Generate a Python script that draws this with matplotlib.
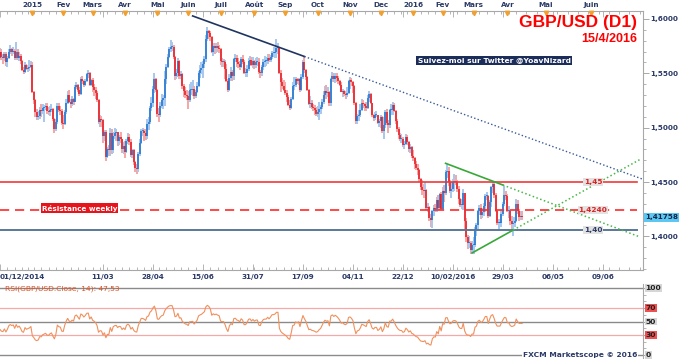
import matplotlib
matplotlib.use('Agg')
import matplotlib.pyplot as plt
import numpy as np
import pandas as pd
from matplotlib.transforms import blended_transform_factory as blend

# ---------------- data (prices in 1/10000) ----------------
first_open = 15900
close = [
 # Nov 2014 (warm-up, off-chart)
 15880, 15860, 15780, 15700, 15680, 15630, 15660, 15640, 15700, 15660, 15730, 15790, 15770, 15740, 15640,
 # Dec 2014
 15700, 15650, 15640, 15680, 15600, 15640, 15700, 15720, 15700, 15710, 15640, 15700, 15640, 15660, 15610, 15530, 15510, 15580, 15540, 15550, 15560, 15580,
 # Jan 2015
 15330, 15250, 15140, 15100, 15110, 15160, 15150, 15180, 15190, 15200, 15150, 15140, 15160, 15170, 15080, 14990, 15050, 15200, 15160, 15150, 15040,
 # Feb 2015
 15030, 15140, 15230, 15300, 15240, 15220, 15260, 15240, 15370, 15390, 15350, 15310, 15450, 15430, 15390, 15430, 15490, 15500, 15390, 15440,
 # Mar 2015
 15370, 15350, 15320, 15250, 15050, 15080, 15070, 14920, 14960, 14730, 14800, 14790, 14950, 14790, 14920, 14950, 14960, 14880, 14910, 14900, 14800, 14835,
 # Apr 2015
 14780, 14880, 14910, 14870, 14750, 14790, 14680, 14630, 14620, 14760, 14860, 14970, 14970, 14950, 14920, 15030, 15050, 15180, 15230, 15360, 15450, 15350,
 # May 2015
 15130, 15120, 15200, 15250, 15270, 15450, 15560, 15650, 15720, 15740, 15740, 15650, 15480, 15500, 15610, 15480, 15490, 15380, 15340, 15300, 15290,
 # Jun 2015
 15250, 15350, 15350, 15360, 15290, 15330, 15380, 15500, 15530, 15550, 15590, 15630, 15820, 15890, 15870, 15830, 15700, 15750, 15730, 15750, 15730, 15720,
 # Jul 2015
 15610, 15600, 15600, 15540, 15430, 15350, 15460, 15510, 15480, 15630, 15640, 15600, 15590, 15560, 15630, 15600, 15500, 15500, 15540, 15610, 15620, 15580, 15610,
 # Aug 2015
 15580, 15600, 15600, 15510, 15500, 15560, 15600, 15610, 15610, 15640, 15620, 15650, 15690, 15690, 15700, 15730, 15730, 15500, 15420, 15380, 15350,
 # Sep 2015
 15320, 15280, 15210, 15180, 15260, 15380, 15390, 15450, 15430, 15450, 15350, 15470, 15600, 15530, 15470, 15350, 15220, 15230, 15190, 15180, 15160, 15130,
 # Oct 2015
 15140, 15170, 15190, 15240, 15300, 15340, 15320, 15330, 15230, 15450, 15480, 15450, 15480, 15460, 15430, 15390, 15330, 15340, 15310, 15300, 15320, 15430,
 # Nov 2015
 15440, 15420, 15380, 15230, 15060, 15110, 15120, 15160, 15230, 15220, 15200, 15180, 15270, 15310, 15230, 15120, 15090, 15120, 15120, 15040, 15060,
 # Dec 2015
 15100, 14970, 15020, 15140, 15040, 15020, 15160, 15160, 15210, 15150, 15060, 14990, 14930, 14900, 14900, 14840, 14850, 14910, 14870, 14800, 14820, 14740,
 # Jan 2016
 14720, 14670, 14630, 14610, 14530, 14450, 14430, 14420, 14430, 14260, 14270, 14170, 14150, 14230, 14260, 14250, 14330, 14260, 14390, 14250,
 # Feb 2016
 14420, 14400, 14590, 14600, 14500, 14420, 14440, 14500, 14510, 14500, 14440, 14340, 14290, 14290, 14400, 14140, 13990, 13940, 13940, 13870, 13920,
 # Mar 2016
 13920, 14070, 14100, 14230, 14260, 14200, 14220, 14280, 14370, 14370, 14190, 14320, 14450, 14480, 14380, 14230, 14120, 14120, 14120, 14210, 14300, 14380, 14370,
 # Apr 2016
 14230, 14230, 14140, 14110, 14120, 14140, 14300, 14230, 14180, 14180, 14176,
]
high = [
 15920, 15900, 15880, 15800, 15720, 15700, 15690, 15700, 15730, 15720, 15750, 15810, 15810, 15790, 15750,
 15730, 15720, 15680, 15700, 15700, 15660, 15720, 15760, 15730, 15740, 15720, 15790, 15720, 15700, 15680, 15620, 15560, 15600, 15590, 15580, 15620, 15610,
 15600, 15340, 15260, 15170, 15150, 15190, 15220, 15220, 15210, 15230, 15230, 15190, 15200, 15220, 15180, 15090, 15080, 15230, 15230, 15200, 15170,
 15120, 15160, 15260, 15340, 15350, 15260, 15290, 15270, 15390, 15420, 15400, 15370, 15470, 15480, 15440, 15450, 15500, 15530, 15510, 15450,
 15460, 15400, 15370, 15340, 15260, 15120, 15110, 15080, 14980, 14980, 14820, 14840, 15000, 14990, 14960, 15000, 14990, 14950, 14930, 14960, 14900, 14870,
 14880, 14900, 14950, 14940, 14900, 14800, 14800, 14690, 14670, 14780, 14900, 14990, 15000, 14990, 14990, 15080, 15100, 15200, 15280, 15380, 15500, 15460,
 15360, 15180, 15240, 15310, 15300, 15520, 15590, 15680, 15740, 15810, 15790, 15760, 15660, 15540, 15640, 15620, 15520, 15500, 15400, 15370, 15350,
 15340, 15400, 15420, 15440, 15380, 15350, 15420, 15520, 15580, 15600, 15610, 15660, 15850, 15930, 15900, 15890, 15840, 15780, 15780, 15780, 15790, 15760,
 15730, 15640, 15630, 15620, 15590, 15450, 15490, 15560, 15530, 15640, 15680, 15670, 15640, 15610, 15650, 15670, 15620, 15550, 15580, 15640, 15660, 15650, 15650,
 15620, 15640, 15650, 15640, 15530, 15580, 15630, 15660, 15650, 15680, 15680, 15670, 15710, 15740, 15720, 15820, 15780, 15740, 15530, 15460, 15440,
 15420, 15350, 15300, 15250, 15280, 15420, 15470, 15470, 15460, 15460, 15460, 15490, 15620, 15660, 15540, 15480, 15360, 15290, 15250, 15220, 15210, 15190,
 15200, 15240, 15210, 15260, 15340, 15380, 15390, 15370, 15340, 15460, 15510, 15500, 15500, 15500, 15480, 15440, 15420, 15360, 15350, 15340, 15370, 15440,
 15470, 15460, 15430, 15390, 15240, 15130, 15160, 15220, 15260, 15250, 15230, 15240, 15300, 15340, 15320, 15230, 15130, 15140, 15150, 15120, 15080,
 15120, 15110, 15100, 15160, 15170, 15070, 15170, 15220, 15240, 15230, 15160, 15080, 15010, 14950, 14940, 14910, 14880, 14940, 14930, 14880, 14850, 14830,
 14790, 14730, 14690, 14670, 14620, 14540, 14520, 14480, 14500, 14440, 14310, 14280, 14210, 14240, 14290, 14300, 14360, 14380, 14400, 14410,
 14450, 14470, 14610, 14670, 14640, 14520, 14500, 14530, 14570, 14560, 14520, 14460, 14350, 14340, 14440, 14270, 14170, 14010, 14000, 13960, 13960,
 13990, 14090, 14120, 14240, 14290, 14300, 14260, 14310, 14390, 14410, 14380, 14330, 14460, 14510, 14500, 14400, 14240, 14160, 14160, 14240, 14320, 14460, 14420,
 14390, 14280, 14240, 14190, 14180, 14180, 14340, 14330, 14250, 14230, 14230,
]
low = [
 15840, 15800, 15760, 15690, 15650, 15600, 15610, 15620, 15630, 15640, 15650, 15710, 15730, 15720, 15620,
 15620, 15620, 15590, 15610, 15570, 15560, 15630, 15680, 15660, 15680, 15620, 15620, 15620, 15610, 15590, 15520, 15490, 15500, 15530, 15510, 15520, 15550,
 15320, 15220, 15100, 15070, 15070, 15080, 15100, 15130, 15050, 15160, 15130, 15120, 15110, 15140, 15060, 14950, 14970, 15030, 15140, 15120, 15020,
 14990, 15020, 15130, 15220, 15230, 15180, 15200, 15210, 15240, 15360, 15330, 15290, 15300, 15400, 15370, 15380, 15420, 15460, 15380, 15380,
 15330, 15290, 15260, 15240, 15030, 15010, 15010, 14860, 14880, 14690, 14720, 14740, 14740, 14760, 14770, 14900, 14880, 14830, 14840, 14860, 14770, 14760,
 14720, 14770, 14850, 14840, 14730, 14720, 14660, 14590, 14570, 14590, 14740, 14850, 14920, 14880, 14890, 14900, 14980, 15030, 15150, 15190, 15320, 15330,
 15100, 15050, 15100, 15180, 15170, 15200, 15400, 15550, 15640, 15700, 15710, 15630, 15440, 15450, 15470, 15450, 15450, 15360, 15280, 15270, 15250,
 15170, 15240, 15300, 15290, 15260, 15270, 15320, 15370, 15460, 15490, 15460, 15550, 15600, 15800, 15820, 15800, 15690, 15660, 15680, 15690, 15700, 15690,
 15580, 15560, 15560, 15450, 15420, 15330, 15340, 15430, 15430, 15440, 15600, 15560, 15550, 15530, 15550, 15590, 15490, 15470, 15470, 15520, 15570, 15570, 15550,
 15540, 15550, 15570, 15490, 15460, 15480, 15530, 15560, 15570, 15590, 15600, 15600, 15630, 15650, 15640, 15640, 15680, 15490, 15330, 15360, 15340,
 15300, 15240, 15200, 15160, 15170, 15250, 15350, 15370, 15400, 15390, 15330, 15340, 15450, 15500, 15440, 15340, 15210, 15180, 15170, 15150, 15120, 15110,
 15100, 15070, 15130, 15170, 15220, 15270, 15260, 15280, 15200, 15200, 15420, 15420, 15410, 15420, 15400, 15380, 15330, 15280, 15290, 15260, 15280, 15310,
 15360, 15380, 15320, 15210, 15030, 15030, 15060, 15100, 15150, 15180, 15150, 15150, 15170, 15240, 15220, 15100, 15060, 15070, 15100, 15030, 15010,
 15000, 14950, 14900, 15000, 15020, 14950, 15000, 15120, 15120, 15140, 15030, 14960, 14900, 14880, 14860, 14820, 14800, 14840, 14840, 14780, 14770, 14720,
 14690, 14620, 14610, 14560, 14500, 14430, 14380, 14350, 14370, 14240, 14220, 14140, 14090, 14080, 14190, 14220, 14220, 14240, 14240, 14240,
 14240, 14320, 14380, 14540, 14460, 14400, 14350, 14410, 14420, 14470, 14410, 14300, 14270, 14250, 14240, 14060, 13950, 13880, 13890, 13840, 13840,
 13840, 13900, 14000, 14070, 14200, 14160, 14170, 14190, 14220, 14330, 14170, 14180, 14270, 14400, 14350, 14220, 14100, 14050, 14090, 14090, 14190, 14280, 14330,
 14220, 14170, 14100, 14050, 14000, 14090, 14130, 14210, 14140, 14150, 14150,
]

start_label_date = '2014-12-01'
date_ticks = ['2014-12-01', '2015-03-11', '2015-04-28', '2015-06-15', '2015-07-31', '2015-09-17',
              '2015-11-04', '2015-12-22', '2016-02-10', '2016-03-29', '2016-05-06', '2016-06-09']
date_tick_labels = ['01/12/2014', '11/03', '28/04', '15/06', '31/07', '17/09', '04/11', '22/12',
                    '10/02/2016', '29/03', '06/05', '09/06']
month_dates = ['2015-01-02', '2015-02-02', '2015-03-02', '2015-04-01', '2015-05-01', '2015-06-01',
               '2015-07-01', '2015-08-03', '2015-09-01', '2015-10-01', '2015-11-02', '2015-12-01',
               '2016-01-04', '2016-02-01', '2016-03-01', '2016-04-01', '2016-05-01', '2016-06-01']
month_labels = ['2015', 'Fev', 'Mars', 'Avr', 'Mai', 'Juin', 'Juil', 'Août', 'Sep', 'Oct', 'Nov',
                'Dec', '2016', 'Fev', 'Mars', 'Avr', 'Mai', 'Juin']

levels = [1.4500, 1.4240, 1.4055]
level_labels = ['1,45', '1,4240', '1,40']
navy_trend = [('2015-06-04', 1.6028), ('2015-09-18', 1.5655)]
green_upper = [('2016-02-03', 1.4672), ('2016-03-29', 1.4472)]
green_lower = [('2016-02-29', 1.3847), ('2016-04-07', 1.4058)]
last_price = 1.41758
rsi_levels = [100, 70, 50, 30, 0]

# ---------------- dates / positions ----------------
dates = pd.bdate_range('2014-11-10', '2016-04-15')
mask = ((dates.month == 12) & (dates.day == 25)) | ((dates.month == 1) & (dates.day == 1))
dates = dates[~mask]
n = len(dates)
if not (len(close) == n and len(high) == n and len(low) == n):
    raise SystemExit(f"len mismatch n={n} c={len(close)} h={len(high)} l={len(low)}")
off = int(dates.searchsorted(pd.Timestamp(start_label_date)))
xs = np.arange(n) - off
last_x = xs[-1]

def xpos(d):
    d = pd.Timestamp(d)
    if d <= dates[-1]:
        return int(dates.searchsorted(d)) - off
    return last_x + (d - dates[-1]).days

c = np.array(close) / 10000.0
o = np.concatenate([[first_open / 10000.0], c[:-1]])
h = np.maximum(np.array(high) / 10000.0, np.maximum(o, c))
l = np.minimum(np.array(low) / 10000.0, np.minimum(o, c))

# RSI (Wilder, 14)
d = np.diff(c)
up = np.where(d > 0, d, 0.0)
dn = np.where(d < 0, -d, 0.0)
rsi = np.full(n, np.nan)
ag = up[:14].mean(); al = dn[:14].mean()
rsi[14] = 100 - 100 / (1 + ag / al)
for i in range(15, n):
    ag = (ag * 13 + up[i - 1]) / 14
    al = (al * 13 + dn[i - 1]) / 14
    rsi[i] = 100 - 100 / (1 + ag / al)

# ---------------- figure ----------------
W, H = 680, 359
PXB = 1.4706  # px per bar
fig = plt.figure(figsize=(W / 100, H / 100), dpi=100)
fig.patch.set_facecolor('white')

def fx(px): return px / W
def fy(py): return 1 - py / H

ax = fig.add_axes([0, fy(270), fx(643), (270 - 11) / H])
XR = 643 / PXB
ax.set_xlim(0, XR)
ax.set_ylim(1.36902, 1.60736)

navy = '#2b3a67'
grey = '#a8a8a8'

upc = c >= o
wick_col = np.where(upc, '#a9c8ee', '#f5a8a8')
body_col = np.where(upc, '#1f74d0', '#e81c24')
ax.vlines(xs, l, h, colors=wick_col, lw=1.45, zorder=2)
btm = np.minimum(o, c)
top = np.maximum(np.maximum(o, c), btm + 0.0009)
ax.vlines(xs, btm, top, colors=body_col, lw=1.15, zorder=3)

# horizontal levels
xl_end = 637 / PXB
ax.plot([0, xl_end], [levels[0]] * 2, color='#f03838', lw=1.2, zorder=4)
ax.plot([0, xl_end], [levels[1]] * 2, color='#ff2a2a', lw=1.2, dashes=(5.5, 3.5), zorder=4)
ax.plot([0, xl_end], [levels[2]] * 2, color='#5a7898', lw=1.4, zorder=4)
lab_x = 593 / PXB
for lv, txt, col in zip(levels, level_labels, ['#e02020', '#e02020', navy]):
    ax.text(lab_x, lv, txt, ha='center', va='center', fontsize=5.3, weight='bold', color=col,
            zorder=6, bbox=dict(boxstyle='square,pad=0.12', fc='#e2e2e2', ec='none'))

# trend lines
def trend(pts, xend):
    (d1, p1), (d2, p2) = pts
    x1, x2 = xpos(d1), xpos(d2)
    s = (p2 - p1) / (x2 - x1)
    return (x1, p1), (x2, p2), (xend, p2 + s * (xend - x2))

xe = 640 / PXB
a, b, e = trend(navy_trend, XR)
ax.plot([a[0], b[0]], [a[1], b[1]], color='#1f3560', lw=1.2, zorder=5)
ax.plot([b[0], e[0]], [b[1], e[1]], color='#3a5a98', lw=1.0, dashes=(1, 1.6), zorder=5)
for pts in (green_upper, green_lower):
    a, b, e = trend(pts, xe)
    ax.plot([a[0], b[0]], [a[1], b[1]], color='#38a838', lw=1.2, zorder=5)
    ax.plot([b[0], e[0]], [b[1], e[1]], color='#48b848', lw=1.1, dashes=(1, 1.6), zorder=5)

# axes styling
ax.spines['left'].set_visible(False)
for s in ['top', 'bottom', 'right']:
    ax.spines[s].set_color(grey)
    ax.spines[s].set_linewidth(0.8)
ax.yaxis.tick_right()
yt = [1.40, 1.45, 1.50, 1.55, 1.60]
ax.set_yticks(yt)
ax.set_yticklabels([f"{v:.4f}".replace('.', ',') for v in yt])
ax.set_yticks(np.arange(1.37, 1.605, 0.01), minor=True)
ax.tick_params(axis='y', which='major', length=4, width=0.7, color=grey, pad=1.5,
               labelsize=5.2, labelcolor=navy)
ax.tick_params(axis='y', which='minor', length=2, width=0.6, color=grey)
for t in ax.get_yticklabels():
    t.set_fontweight('bold')

ax.set_xticks([xpos(dd) for dd in date_ticks])
ax.set_xticklabels(date_tick_labels)
mondays = [xpos(dd) for dd in dates if dd.weekday() == 0 and dd >= pd.Timestamp(start_label_date)]
fut = pd.date_range(dates[-1] + pd.Timedelta(days=3), '2016-07-10', freq='7D')
mondays += [xpos(dd) for dd in fut]
ax.set_xticks(mondays, minor=True)
ax.tick_params(axis='x', which='both', top=True, bottom=True, direction='in', color=grey, width=0.6)
ax.tick_params(axis='x', which='major', length=4, pad=3, labelsize=5.2, labelcolor=navy)
ax.tick_params(axis='x', which='minor', length=2.2)
for i, t in enumerate(ax.get_xticklabels()):
    t.set_fontweight('bold')
    if i == 0:
        t.set_horizontalalignment('left')

# month labels + markers on top ruler
tb = blend(ax.transData, ax.transAxes)
mx = [xpos(dd) for dd in month_dates]
for x_, lab in zip(mx, month_labels):
    ax.text(x_, 1 + 6 / 259, lab, transform=tb, ha='center', va='center', fontsize=5.2,
            weight='bold', color=navy, clip_on=False)
ax.plot(mx, [1 - 1.6 / 259] * len(mx), transform=tb, ls='none', marker='v', ms=3.2,
        color='#f0a030', mec='#f0a030', clip_on=False, zorder=7)

# price tag
fig.text(fx(645), fy(217.5), f"{last_price:.5f}".replace('.', ','), ha='left', va='center',
         fontsize=5.2, weight='bold', color='#14264a',
         bbox=dict(boxstyle='square,pad=0.15', fc='#5cc8f2', ec='none'))

# titles / annotations
fig.text(fx(637), fy(22), 'GBP/USD (D1)', ha='right', va='center', fontsize=12.5,
         weight='bold', color='#ff0000', family='Liberation Sans')
fig.text(fx(637), fy(38.5), '15/4/2016', ha='right', va='center', fontsize=9,
         weight='bold', color='#ff0000', family='Liberation Sans')
fig.text(fx(494), fy(60.5), 'Suivez-moi sur Twitter @YoavNizard', ha='center', va='center',
         fontsize=5.4, weight='bold', color='white',
         bbox=dict(boxstyle='square,pad=0.25', fc='#1c2d5a', ec='none'))
fig.text(fx(79.5), fy(208), 'Résistance weekly', ha='center', va='center', fontsize=5.2,
         weight='bold', color='white', zorder=8,
         bbox=dict(boxstyle='square,pad=0.15', fc='#e8141c', ec='none'))

# ---------------- RSI panel ----------------
rax = fig.add_axes([0, fy(358), fx(643), 74 / H])
rax.set_xlim(0, XR)
rax.set_ylim(-4.5, 106)
for lv in rsi_levels:
    if lv in (70, 30):
        rax.plot([0, XR], [lv, lv], color='#f6a8a8', lw=0.9, zorder=1)
    else:
        rax.plot([0, XR], [lv, lv], color='#8a8a8a', lw=1.0, zorder=1)
rax.plot(xs, rsi, color='#f0905c', lw=0.8, zorder=3)
for s in ['left', 'top', 'bottom']:
    rax.spines[s].set_visible(False)
rax.spines['right'].set_color(grey)
rax.spines['right'].set_linewidth(0.8)
rax.set_xticks([])
rax.yaxis.tick_right()
rax.set_yticks(rsi_levels)
rax.set_yticklabels([])
rax.set_yticks(np.arange(0, 101, 10), minor=True)
rax.tick_params(axis='y', which='major', length=4, width=0.7, color=grey)
rax.tick_params(axis='y', which='minor', length=2, width=0.6, color=grey)
rb = blend(rax.transAxes, rax.transData)
for lv in rsi_levels:
    fc = '#f05050' if lv in (70, 30) else '#d6d6d6'
    rax.text(1 + 2.5 / 643, lv, str(lv), transform=rb, ha='left', va='center', fontsize=5.4,
             weight='bold', color='#202020', clip_on=False,
             bbox=dict(boxstyle='square,pad=0.1', fc=fc, ec='none'))
fig.text(fx(5), fy(289), 'RSI(GBP/USD.Close, 14): 47,53', ha='left', va='center',
         fontsize=5.4, color='#e05020')
fig.text(fx(637), fy(354.5), 'FXCM Marketscope © 2016', ha='right', va='center',
         fontsize=5.4, weight='bold', color=navy,
         bbox=dict(boxstyle='square,pad=0.1', fc='white', ec='none'))

fig.savefig('out.png', dpi=100, facecolor='white')
